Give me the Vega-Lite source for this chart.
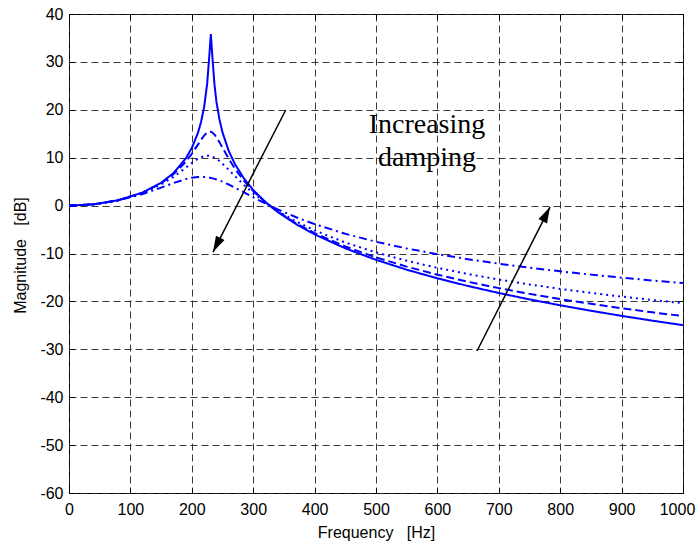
{
  "$schema": "https://vega.github.io/schema/vega-lite/v6.json",
  "width": 614,
  "height": 479,
  "autosize": "none",
  "padding": {"left": 69, "top": 14, "right": 14, "bottom": 53},
  "background": "white",
  "datasets": {
    "curves": [
      {"f": 0, "s": 0, "d": 0, "o": 0, "dd": 0},
      {"f": 40, "s": 0.26, "d": 0.26, "o": 0.26, "dd": 0.26},
      {"f": 80, "s": 1.11, "d": 1.11, "o": 1.09, "dd": 1.06},
      {"f": 120, "s": 2.73, "d": 2.70, "o": 2.63, "dd": 2.41},
      {"f": 150, "s": 4.76, "d": 4.65, "o": 4.41, "dd": 3.75},
      {"f": 170, "s": 6.77, "d": 6.53, "o": 5.99, "dd": 4.70},
      {"f": 190, "s": 9.80, "d": 9.13, "o": 7.89, "dd": 5.53},
      {"f": 200, "s": 12.01, "d": 10.81, "o": 8.88, "dd": 5.82},
      {"f": 210, "s": 15.18, "d": 12.73, "o": 9.76, "dd": 5.98},
      {"f": 215, "s": 17.42, "d": 13.73, "o": 10.09, "dd": 6.00},
      {"f": 220, "s": 20.51, "d": 14.62, "o": 10.32, "dd": 5.98},
      {"f": 225, "s": 25.41, "d": 15.25, "o": 10.41, "dd": 5.91},
      {"f": 228, "s": 30.36, "d": 15.43, "o": 10.40, "dd": 5.85},
      {"f": 231, "s": 35.81, "d": 15.42, "o": 10.32, "dd": 5.77},
      {"f": 234, "s": 30.21, "d": 15.21, "o": 10.19, "dd": 5.68},
      {"f": 237, "s": 25.17, "d": 14.83, "o": 10.01, "dd": 5.58},
      {"f": 240, "s": 21.81, "d": 14.31, "o": 9.78, "dd": 5.46},
      {"f": 245, "s": 17.99, "d": 13.25, "o": 9.31, "dd": 5.24},
      {"f": 250, "s": 15.28, "d": 12.09, "o": 8.75, "dd": 4.99},
      {"f": 260, "s": 11.46, "d": 9.80, "o": 7.50, "dd": 4.41},
      {"f": 270, "s": 8.72, "d": 7.75, "o": 6.19, "dd": 3.77},
      {"f": 285, "s": 5.64, "d": 5.17, "o": 4.31, "dd": 2.76},
      {"f": 300, "s": 3.26, "d": 3.04, "o": 2.60, "dd": 1.73},
      {"f": 320, "s": 0.73, "d": 0.69, "o": 0.60, "dd": 0.42},
      {"f": 340, "s": -1.34, "d": -1.27, "o": -1.12, "dd": -0.80},
      {"f": 370, "s": -3.89, "d": -3.71, "o": -3.32, "dd": -2.44},
      {"f": 400, "s": -6.01, "d": -5.74, "o": -5.17, "dd": -3.87},
      {"f": 450, "s": -8.92, "d": -8.53, "o": -7.71, "dd": -5.89},
      {"f": 500, "s": -11.32, "d": -10.81, "o": -9.78, "dd": -7.55},
      {"f": 550, "s": -13.38, "d": -12.74, "o": -11.51, "dd": -8.94},
      {"f": 600, "s": -15.18, "d": -14.42, "o": -13.00, "dd": -10.15},
      {"f": 650, "s": -16.79, "d": -15.91, "o": -14.29, "dd": -11.20},
      {"f": 700, "s": -18.25, "d": -17.23, "o": -15.44, "dd": -12.13},
      {"f": 750, "s": -19.58, "d": -18.43, "o": -16.46, "dd": -12.96},
      {"f": 800, "s": -20.81, "d": -19.52, "o": -17.39, "dd": -13.72},
      {"f": 850, "s": -21.95, "d": -20.51, "o": -18.23, "dd": -14.41},
      {"f": 900, "s": -23.02, "d": -21.43, "o": -18.99, "dd": -15.04},
      {"f": 950, "s": -24.02, "d": -22.28, "o": -19.70, "dd": -15.63},
      {"f": 1000, "s": -24.96, "d": -23.07, "o": -20.35, "dd": -16.18}
    ],
    "arrows": [
      {"id": "a1", "x": 353, "y": 19.96, "x2": 234.5, "y2": -9.7},
      {"id": "a2", "x": 664.5, "y": -30.35, "x2": 783.4, "y2": -0.3}
    ],
    "labels": [
      {"t": "Increasing", "x": 583, "y": 15.2},
      {"t": "damping", "x": 583, "y": 8.3}
    ]
  },
  "config": {
    "view": {"stroke": "black", "strokeWidth": 1},
    "axis": {
      "domain": false,
      "ticks": true,
      "tickSize": -5,
      "tickColor": "black",
      "tickWidth": 1,
      "labelFont": "Liberation Sans",
      "labelFontSize": 16,
      "labelColor": "black",
      "labelFlush": false,
      "labelPadding": 11,
      "titleFont": "Liberation Sans",
      "titleFontSize": 16,
      "titleFontWeight": "normal",
      "titleColor": "black",
      "gridColor": "#222222",
      "gridDash": [7, 4],
      "gridWidth": 0.9,
      "gridOpacity": 1
    }
  },
  "layer": [
    {
      "data": {"name": "curves"},
      "transform": [{"fold": ["s", "d", "o", "dd"], "as": ["c", "db"]}],
      "mark": {"type": "line", "color": "#0000ff", "strokeWidth": 2, "clip": true},
      "encoding": {
        "x": {
          "field": "f", "type": "quantitative",
          "scale": {"domain": [0, 1000], "nice": false, "zero": false},
          "axis": {
            "values": [0, 100, 200, 300, 400, 500, 600, 700, 800, 900, 1000],
            "labelExpr": "'' + datum.value",
            "labelPadding": 13,
            "labelOffset": {"condition": {"test": "datum.value == 1000", "value": -6}, "value": 0},
            "grid": true,
            "title": "Frequency\u00a0\u00a0\u00a0[Hz]",
            "titleY": 44,
            "titleBaseline": "alphabetic"
          }
        },
        "y": {
          "field": "db", "type": "quantitative",
          "scale": {"domain": [-60, 40], "nice": false, "zero": false},
          "axis": {
            "values": [-60, -50, -40, -30, -20, -10, 0, 10, 20, 30, 40],
            "labelExpr": "'' + datum.value",
            "grid": true,
            "title": "Magnitude\u00a0\u00a0\u00a0[dB]",
            "titleX": -49,
            "titleY": 241,
            "titleAngle": -90,
            "titleAlign": "center",
            "titleBaseline": "middle"
          }
        },
        "detail": {"field": "c"},
        "strokeDash": {
          "field": "c", "type": "nominal",
          "scale": {"domain": ["s", "d", "o", "dd"], "range": [[1, 0], [8, 4], [2, 4], [8, 4, 2, 4]]},
          "legend": null
        }
      }
    },
    {
      "data": {"name": "arrows"},
      "mark": {"type": "rule", "color": "black", "strokeWidth": 1.5},
      "encoding": {
        "x": {
          "field": "x", "type": "quantitative",
          "axis": {
            "orient": "top", "labels": false, "grid": false, "title": null,
            "values": [0, 100, 200, 300, 400, 500, 600, 700, 800, 900, 1000]
          }
        },
        "y": {
          "field": "y", "type": "quantitative",
          "axis": {
            "orient": "right", "labels": false, "grid": false, "title": null,
            "values": [-60, -50, -40, -30, -20, -10, 0, 10, 20, 30, 40]
          }
        },
        "x2": {"field": "x2"},
        "y2": {"field": "y2"}
      }
    },
    {
      "data": {"name": "arrows"},
      "transform": [{"filter": "datum.id == 'a1'"}],
      "mark": {"type": "point", "shape": "M0,0L-0.6,2L0.6,2Z", "size": 256, "filled": true, "color": "black", "opacity": 1, "strokeWidth": 0, "angle": 207},
      "encoding": {
        "x": {"field": "x2", "type": "quantitative", "axis": null},
        "y": {"field": "y2", "type": "quantitative", "axis": null}
      }
    },
    {
      "data": {"name": "arrows"},
      "transform": [{"filter": "datum.id == 'a2'"}],
      "mark": {"type": "point", "shape": "M0,0L-0.6,2L0.6,2Z", "size": 256, "filled": true, "color": "black", "opacity": 1, "strokeWidth": 0, "angle": 27},
      "encoding": {
        "x": {"field": "x2", "type": "quantitative", "axis": null},
        "y": {"field": "y2", "type": "quantitative", "axis": null}
      }
    },
    {
      "data": {"name": "labels"},
      "mark": {"type": "text", "font": "Liberation Serif", "fontSize": 28, "align": "center", "baseline": "alphabetic", "color": "black"},
      "encoding": {
        "x": {"field": "x", "type": "quantitative", "axis": null},
        "y": {"field": "y", "type": "quantitative", "axis": null},
        "text": {"field": "t"}
      }
    }
  ],
  "resolve": {"axis": {"x": "independent", "y": "independent"}}
}
